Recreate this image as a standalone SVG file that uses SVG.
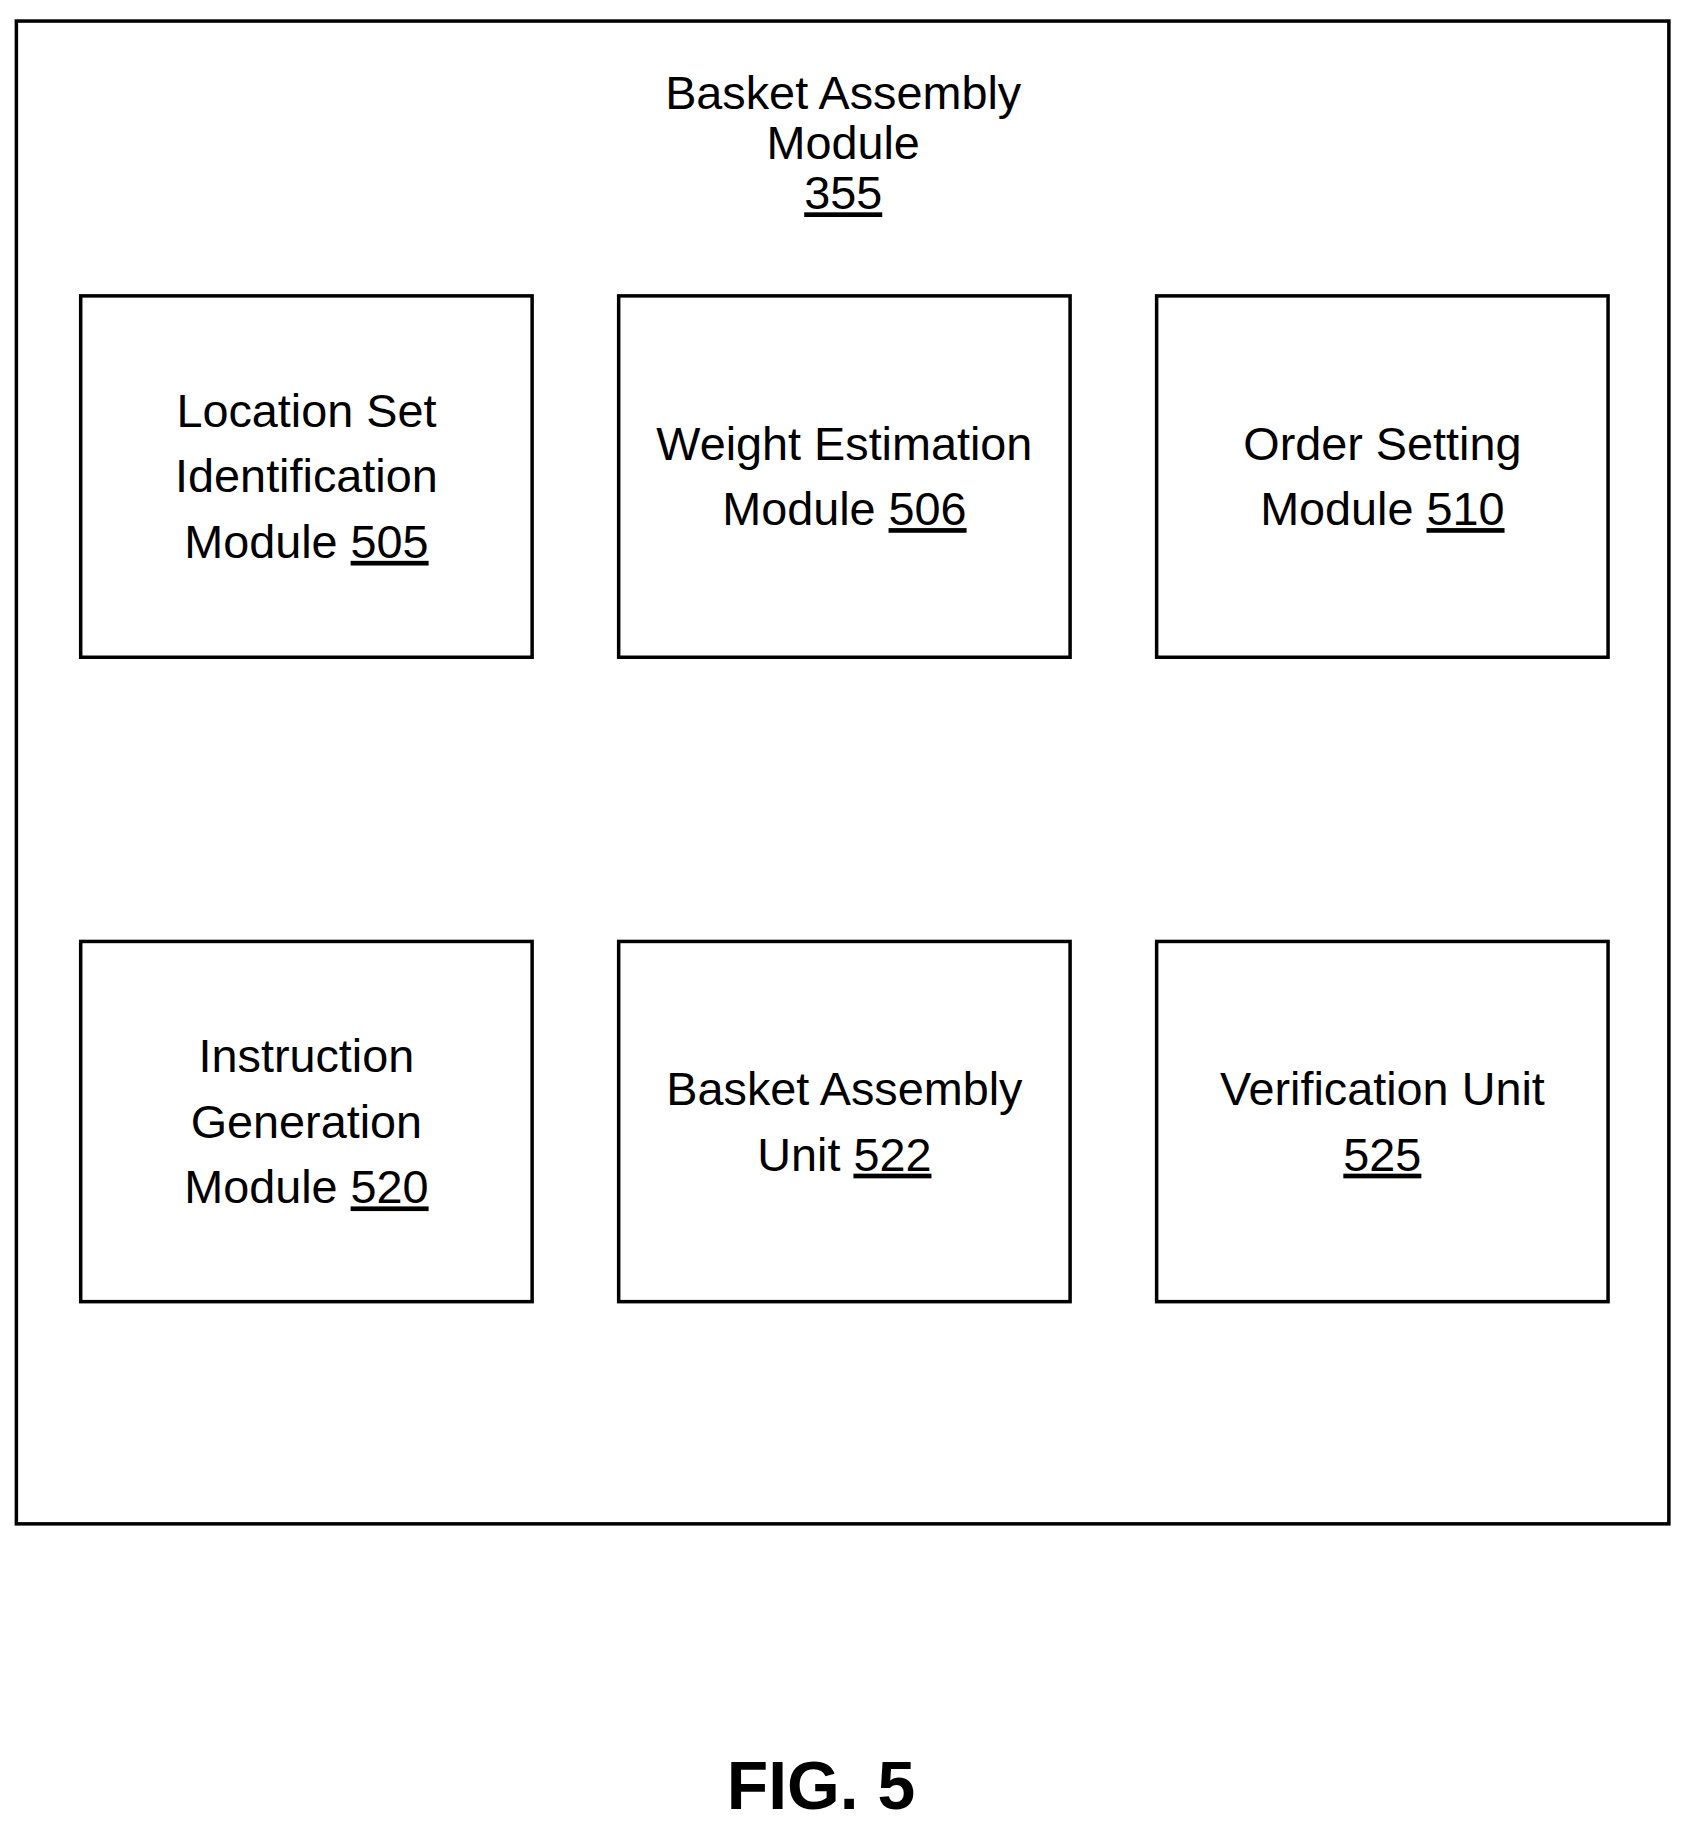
<svg xmlns="http://www.w3.org/2000/svg" width="1690" height="1832" viewBox="0 0 1690 1832">
<style>
rect{fill:none;stroke:#000;stroke-width:3}
text{font-family:"Liberation Sans",Arial,sans-serif;font-size:40px;text-anchor:middle;fill:#000}
.u{text-decoration:underline}
</style>
<rect x="0" y="0" width="1690" height="1832" style="fill:#fff;stroke:none"/>
<g transform="scale(1.1695)">
<g id="outer"><rect x="14" y="18" width="1413" height="1285"/>
<text x="721" y="93">Basket Assembly</text><text x="721" y="136">Module</text><text x="721" y="179" class="u">355</text></g>
<g id="n505"><rect x="69" y="253" width="386" height="309"/>
<text x="262" y="365">Location Set</text><text x="262" y="421">Identification</text><text x="262" y="477">Module <tspan class="u">505</tspan></text></g>
<g id="n506"><rect x="529" y="253" width="386" height="309"/>
<text x="722" y="393">Weight Estimation</text><text x="722" y="449">Module <tspan class="u">506</tspan></text></g>
<g id="n510"><rect x="989" y="253" width="386" height="309"/>
<text x="1182" y="393">Order Setting</text><text x="1182" y="449">Module <tspan class="u">510</tspan></text></g>
<g id="n520"><rect x="69" y="805" width="386" height="308"/>
<text x="262" y="917">Instruction</text><text x="262" y="973">Generation</text><text x="262" y="1029">Module <tspan class="u">520</tspan></text></g>
<g id="n522"><rect x="529" y="805" width="386" height="308"/>
<text x="722" y="945">Basket Assembly</text><text x="722" y="1001">Unit <tspan class="u">522</tspan></text></g>
<g id="n525"><rect x="989" y="805" width="386" height="308"/>
<text x="1182" y="945">Verification Unit</text><text x="1182" y="1001" class="u">525</text></g>
<g id="connectors"/>
<text x="702" y="1547" style="font-size:58px;font-weight:bold">FIG. 5</text>
</g>
</svg>
